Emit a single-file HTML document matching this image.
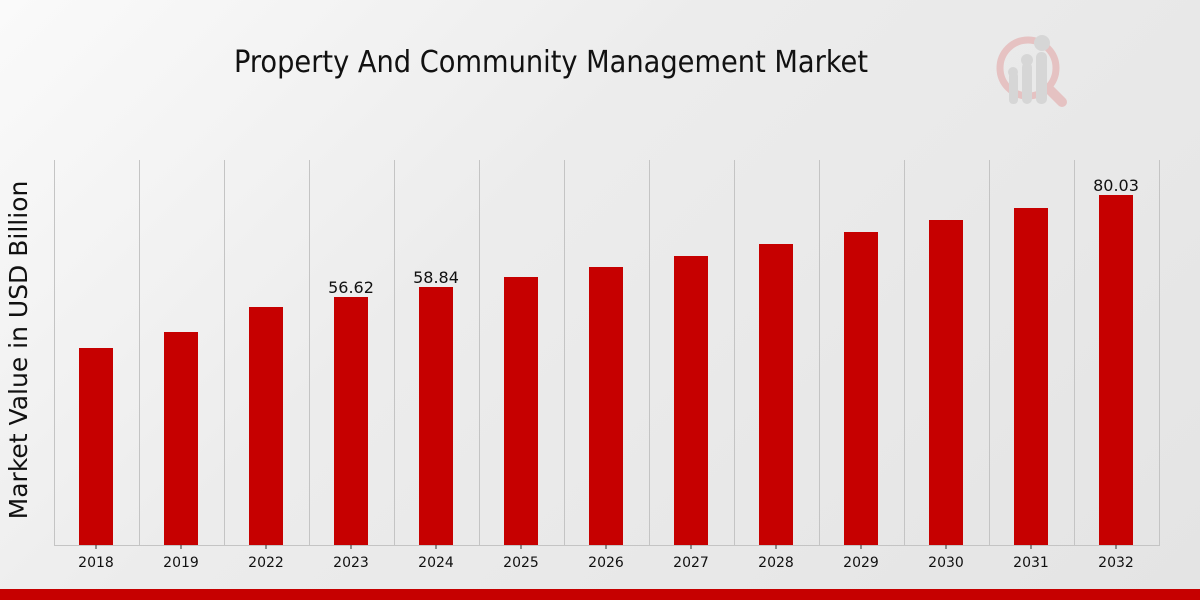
<!DOCTYPE html>
<html><head><meta charset="utf-8"><style>
html,body{margin:0;padding:0;width:1200px;height:600px;overflow:hidden}
body{background:linear-gradient(135deg,#fafafa 0%,#ececec 40%,#e4e4e4 100%)}
</style></head><body>
<svg width="1200" height="600" xmlns="http://www.w3.org/2000/svg" style="position:absolute;left:0;top:0">
<text x="551" y="72" text-anchor="middle" font-family="'DejaVu Sans Condensed','Liberation Sans Narrow','DejaVu Sans',sans-serif" font-size="30" fill="#111" textLength="634" lengthAdjust="spacingAndGlyphs">Property And Community Management Market</text>
<g opacity="0.55">
<circle cx="1028" cy="68" r="28" fill="none" stroke="#e3a3a3" stroke-width="7"/>
<line x1="1048" y1="88" x2="1062" y2="102" stroke="#e3a3a3" stroke-width="10" stroke-linecap="round"/>
<rect x="1009" y="72" width="9" height="32" rx="4" fill="#c8c8c8"/>
<rect x="1022" y="62" width="10" height="42" rx="5" fill="#c8c8c8"/>
<rect x="1036" y="52" width="11" height="52" rx="5" fill="#c8c8c8"/>
<circle cx="1013" cy="72" r="5" fill="#c8c8c8"/><circle cx="1027" cy="60" r="6" fill="#c8c8c8"/><circle cx="1042" cy="43" r="8" fill="#c8c8c8"/>
</g>
<g stroke="#c4c4c4" stroke-width="1">
<line x1="54.5" y1="160" x2="54.5" y2="545"/><line x1="139.5" y1="160" x2="139.5" y2="545"/><line x1="224.5" y1="160" x2="224.5" y2="545"/><line x1="309.5" y1="160" x2="309.5" y2="545"/><line x1="394.5" y1="160" x2="394.5" y2="545"/><line x1="479.5" y1="160" x2="479.5" y2="545"/><line x1="564.5" y1="160" x2="564.5" y2="545"/><line x1="649.5" y1="160" x2="649.5" y2="545"/><line x1="734.5" y1="160" x2="734.5" y2="545"/><line x1="819.5" y1="160" x2="819.5" y2="545"/><line x1="904.5" y1="160" x2="904.5" y2="545"/><line x1="989.5" y1="160" x2="989.5" y2="545"/><line x1="1074.5" y1="160" x2="1074.5" y2="545"/><line x1="1159.5" y1="160" x2="1159.5" y2="545"/>
<line x1="54" y1="545.5" x2="1160" y2="545.5"/>
</g>
<g fill="#c60000">
<rect x="79" y="348" width="34" height="197"/><rect x="164" y="332" width="34" height="213"/><rect x="249" y="307" width="34" height="238"/><rect x="334" y="297" width="34" height="248"/><rect x="419" y="287" width="34" height="258"/><rect x="504" y="277" width="34" height="268"/><rect x="589" y="267" width="34" height="278"/><rect x="674" y="256" width="34" height="289"/><rect x="759" y="244" width="34" height="301"/><rect x="844" y="232" width="34" height="313"/><rect x="929" y="220" width="34" height="325"/><rect x="1014" y="208" width="34" height="337"/><rect x="1099" y="195" width="34" height="350"/>
</g>
<g stroke="#333"><line x1="96" y1="545" x2="96" y2="549"/><line x1="181" y1="545" x2="181" y2="549"/><line x1="266" y1="545" x2="266" y2="549"/><line x1="351" y1="545" x2="351" y2="549"/><line x1="436" y1="545" x2="436" y2="549"/><line x1="521" y1="545" x2="521" y2="549"/><line x1="606" y1="545" x2="606" y2="549"/><line x1="691" y1="545" x2="691" y2="549"/><line x1="776" y1="545" x2="776" y2="549"/><line x1="861" y1="545" x2="861" y2="549"/><line x1="946" y1="545" x2="946" y2="549"/><line x1="1031" y1="545" x2="1031" y2="549"/><line x1="1116" y1="545" x2="1116" y2="549"/></g>
<g font-family="'DejaVu Sans',sans-serif" font-size="14" fill="#111" text-anchor="middle">
<text x="96" y="567">2018</text><text x="181" y="567">2019</text><text x="266" y="567">2022</text><text x="351" y="567">2023</text><text x="436" y="567">2024</text><text x="521" y="567">2025</text><text x="606" y="567">2026</text><text x="691" y="567">2027</text><text x="776" y="567">2028</text><text x="861" y="567">2029</text><text x="946" y="567">2030</text><text x="1031" y="567">2031</text><text x="1116" y="567">2032</text>
</g>
<g font-family="'DejaVu Sans',sans-serif" font-size="16" fill="#111" text-anchor="middle">
<text x="351" y="293">56.62</text><text x="436" y="283">58.84</text><text x="1116" y="191">80.03</text>
</g>
<text transform="translate(27,350) rotate(-90)" text-anchor="middle" font-family="'DejaVu Sans',sans-serif" font-size="25" fill="#111">Market Value in USD Billion</text>
<rect x="0" y="589" width="1200" height="11" fill="#c60000"/>
</svg>
</body></html>
